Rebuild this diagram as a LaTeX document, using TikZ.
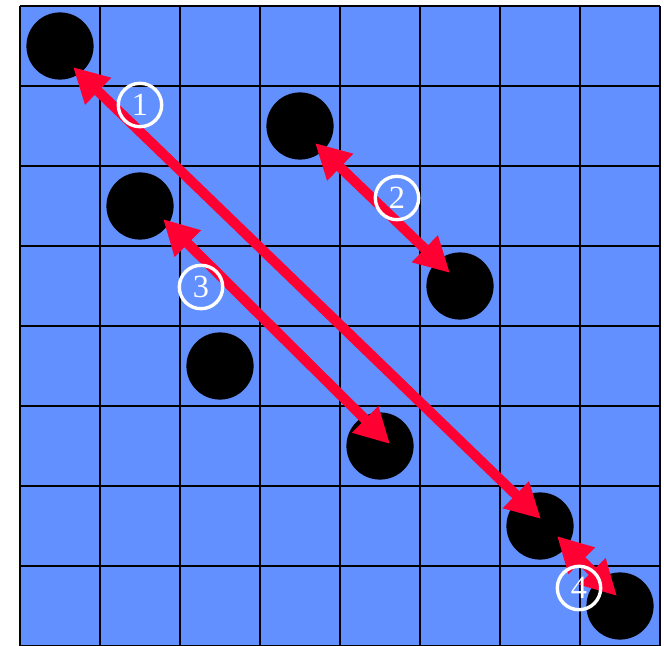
\documentclass[tikz,border=0pt]{standalone}
\usepackage{fontspec}
\setmainfont{Liberation Serif}
\usepackage{xcolor}
\usepackage{tikz}
\usetikzlibrary{calc,arrows.meta}
\definecolor{boardblue}{RGB}{98,144,255}
\definecolor{arrowred}{RGB}{255,0,51}

\begin{document}
\begin{tikzpicture}[x=2cm,y=2cm,
  stone/.style={circle,fill=black,minimum size=1.68cm,inner sep=0pt},
  lbl/.style={circle,draw=white,line width=2.4pt,minimum size=1.085cm,
    inner sep=0pt,text=white,font=\fontsize{23}{23}\selectfont},
  arr/.style={{Triangle[length=0.875cm,width=0.875cm]}-{Triangle[length=0.875cm,width=0.875cm]},
    line width=0.25cm,draw=arrowred}]
\useasboundingbox (-0.25,0.0125) rectangle (8.05,8.075);
% board
\fill[boardblue] (0,0) rectangle (8,8);
\draw[line width=2.1pt,step=2cm] (0,0) grid (8,8);
% stones, one per row
\node[stone] (s1) at (0.5,7.5) {};
\node[stone] (s2) at (3.5,6.5) {};
\node[stone] (s3) at (1.5,5.5) {};
\node[stone] (s4) at (5.5,4.5) {};
\node[stone] (s5) at (2.5,3.5) {};
\node[stone] (s6) at (4.5,2.5) {};
\node[stone] (s7) at (6.5,1.5) {};
\node[stone] (s8) at (7.5,0.5) {};
% arrow ends
\coordinate (a1) at ($(s1)+(0.1625,-0.2625)$);
\coordinate (b1) at ($(s7)+(0.0125,0.0875)$);
\coordinate (a2) at ($(s2)+(0.1875,-0.2125)$);
\coordinate (b2) at ($(s4)+(-0.125,0.1625)$);
\coordinate (a3) at ($(s3)+(0.2875,-0.1625)$);
\coordinate (b3) at ($(s6)+(0.125,0.025)$);
\coordinate (a4) at ($(s7)+(0.2125,-0.125)$);
\coordinate (b4) at ($(s8)+(-0.0375,0.125)$);
% arrows
\draw[arr] (a1) -- (b1);
\draw[arr] (a2) -- (b2);
\draw[arr] (a3) -- (b3);
\draw[arr] (a4) -- (b4);
% numbered labels
\node[lbl] (n1) at (1.5,6.7625) {1};
\node[lbl] (n2) at (4.7125,5.6) {2};
\node[lbl] (n3) at (2.2625,4.4875) {3};
\node[lbl] (n4) at (6.9875,0.725) {4};
\end{tikzpicture}
\end{document}
